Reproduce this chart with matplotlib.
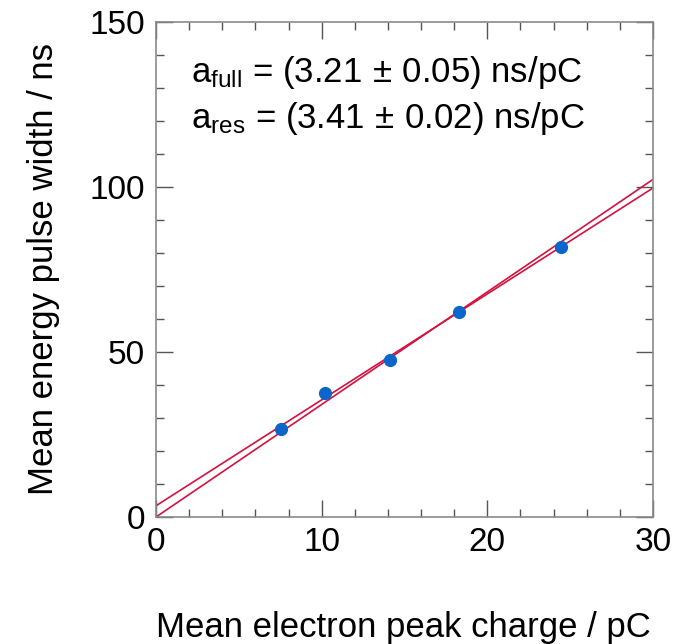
import matplotlib
matplotlib.use("Agg")
import matplotlib.pyplot as plt
import numpy as np
from matplotlib.ticker import MultipleLocator

plt.rcParams['font.family'] = ['Liberation Sans', 'DejaVu Sans']
plt.rcParams['mathtext.fontset'] = 'custom'
plt.rcParams['mathtext.rm'] = 'Liberation Sans'
plt.rcParams['mathtext.it'] = 'Liberation Sans'

# measured points
charge = [7.55, 10.2, 14.15, 18.3, 24.45]
width = [26.8, 37.5, 47.6, 62.0, 81.7]

# fit results: (slope, intercept)
fit_full = (3.21, 3.4)
fit_res = (3.41, 0.0)

fig = plt.figure(figsize=(7.0, 6.44), dpi=100)
ax = fig.add_axes([156/700, 1 - 517/644, 497/700, 495/644])

xx = np.array([0, 30])
line_col = '#d3123e'
ax.plot(xx, fit_full[0] * xx + fit_full[1], color=line_col, lw=1.2)
ax.plot(xx, fit_res[0] * xx + fit_res[1], color=line_col, lw=1.2)
ax.plot(charge, width, 'o', color='#0b66cc', ms=8.5, zorder=3)

ax.set_xlim(0, 30)
ax.set_ylim(0, 150)
ax.xaxis.set_major_locator(MultipleLocator(10))
ax.xaxis.set_minor_locator(MultipleLocator(2))
ax.yaxis.set_major_locator(MultipleLocator(50))
ax.yaxis.set_minor_locator(MultipleLocator(10))
ax.tick_params(which='both', direction='in', top=True, right=True, colors='#555555',
               labelcolor='black', labelsize=24)
ax.tick_params(axis='y', pad=8)
ax.tick_params(axis='x', pad=7)
ax.tick_params(which='major', length=12, width=1)
ax.tick_params(which='minor', length=6, width=1)
for s in ax.spines.values():
    s.set_color('#8a8a8a')
    s.set_linewidth(1.2)

fig.text(651/700, 1 - 637/644, "Mean electron peak charge / pC", ha='right', va='baseline', fontsize=25)
fig.text(44/700, 1 - 43/644, "Mean energy pulse width / ns", ha='center', va='top',
         rotation=90, fontsize=25)

ax.text(2.1, 131.9, r"a$_{\rm full}$ = (3.21$\,\pm\,$0.05) ns/pC", fontsize=25, va='baseline')
ax.text(2.1, 117.8, r"a$_{\rm res}$ = (3.41$\,\pm\,$0.02) ns/pC", fontsize=25, va='baseline')

fig.savefig("out.png", dpi=100)
